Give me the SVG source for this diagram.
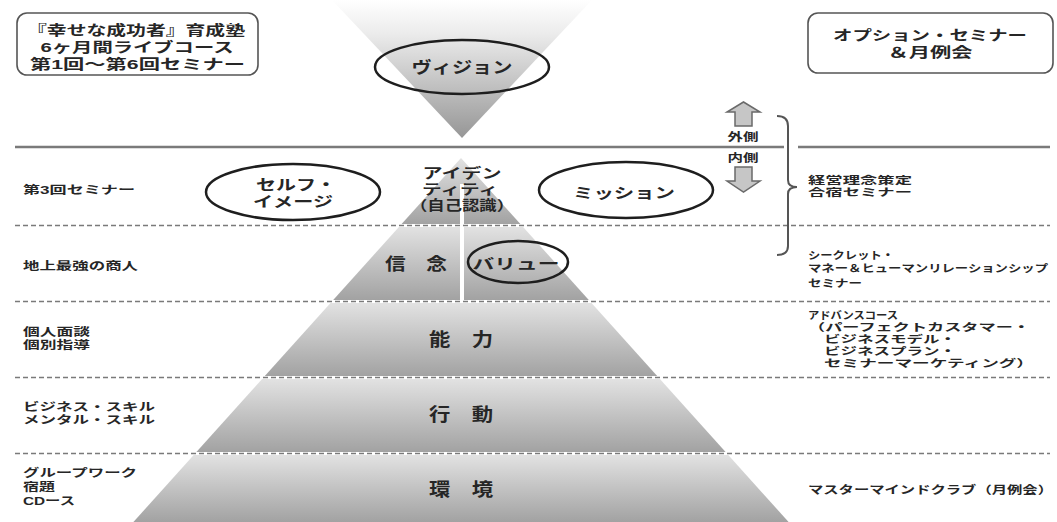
<svg xmlns="http://www.w3.org/2000/svg" width="1057" height="522" viewBox="0 0 1057 522">
<style>
text{font-family:"Liberation Sans","Noto Sans CJK JP","Noto Sans CJK SC",sans-serif;font-weight:bold;fill:#262626}
.s{font-size:11px}
.r{font-size:10.5px}
.m{font-size:13.5px}
.l{font-size:14.5px}
.c{text-anchor:middle}
.ell{fill:none;stroke:#1e1e1e;stroke-width:2.5}
.box{fill:#fff;stroke:#555;stroke-width:1.6}
.band{fill:url(#bandGrad)}
.dash{stroke:#7a7a7a;stroke-width:1.6;stroke-dasharray:5 3;fill:none}
.solid{stroke:#7a7a7a;stroke-width:2.6;fill:none}
.arrow{fill:#c6c6c6;stroke:#6a6a6a;stroke-width:1.5}
.brace{fill:none;stroke:#555;stroke-width:2}
</style>
<defs>
<linearGradient id="bandGrad" x1="0" y1="0" x2="0" y2="1">
<stop offset="0" stop-color="#e2e2e2"/>
<stop offset="1" stop-color="#a2a2a2"/>
</linearGradient>
<linearGradient id="funnelGrad" gradientUnits="userSpaceOnUse" x1="0" y1="0" x2="0" y2="138">
<stop offset="0" stop-color="#ffffff"/>
<stop offset="0.25" stop-color="#ebebeb"/>
<stop offset="1" stop-color="#969696"/>
</linearGradient>
</defs>
<rect width="1057" height="522" fill="#fff"/>

<!-- vision funnel -->
<g id="funnel">
<polygon points="332,0 592,0 462,138" fill="url(#funnelGrad)"/>
</g>

<!-- pyramid bands -->
<g id="pyramid">
<polygon class="band" points="461,158 401.6,224 520.4,224"/>
<polygon class="band" points="398.9,227 523.1,227 588.8,300 333.2,300"/>
<polygon class="band" points="330.5,303 591.5,303 657.2,376 264.8,376"/>
<polygon class="band" points="262.1,379 659.9,379 725.6,452 196.4,452"/>
<polygon class="band" points="193.7,455 728.3,455 788.6,522 133.4,522"/>
<rect x="460" y="184" width="4" height="117" fill="#fff"/>
</g>

<!-- separator lines -->
<g id="lines">
<line class="solid" x1="15" y1="147" x2="784" y2="147"/>
<line class="solid" x1="798" y1="147" x2="1050" y2="147"/>
<line class="dash" x1="15" y1="225.5" x2="1050" y2="225.5"/>
<line class="dash" x1="15" y1="301.5" x2="1050" y2="301.5"/>
<line class="dash" x1="15" y1="377.5" x2="1050" y2="377.5"/>
<line class="dash" x1="15" y1="453.5" x2="1050" y2="453.5"/>
</g>

<!-- header boxes -->
<g id="course-box">
<rect class="box" x="17" y="13" width="241" height="62" rx="10"/>
<text class="m c"><tspan x="136" y="35" textLength="218" lengthAdjust="spacingAndGlyphs">『幸せな成功者』育成塾</tspan><tspan x="137" y="52" textLength="193" lengthAdjust="spacingAndGlyphs">6ヶ月間ライブコース</tspan><tspan x="137.5" y="68.5" textLength="215" lengthAdjust="spacingAndGlyphs">第1回〜第6回セミナー</tspan></text>
</g>
<g id="option-box">
<rect class="box" x="808" y="13" width="245" height="60" rx="10"/>
<text class="m c"><tspan x="930" y="40" textLength="194" lengthAdjust="spacingAndGlyphs">オプション・セミナー</tspan><tspan x="930" y="57" textLength="85" lengthAdjust="spacingAndGlyphs">＆月例会</tspan></text>
</g>

<!-- ellipse nodes -->
<g id="vision">
<ellipse class="ell" cx="462" cy="67" rx="87" ry="27"/>
<text class="c" x="462" y="73" font-size="16" textLength="101" lengthAdjust="spacingAndGlyphs">ヴィジョン</text>
</g>
<g id="self-image">
<ellipse class="ell" cx="293" cy="192" rx="87" ry="28"/>
<text class="l c"><tspan x="296" y="190" textLength="80" lengthAdjust="spacingAndGlyphs">セルフ・</tspan><tspan x="293" y="207" textLength="80" lengthAdjust="spacingAndGlyphs">イメージ</tspan></text>
</g>
<g id="mission">
<ellipse class="ell" cx="626" cy="190" rx="87" ry="28"/>
<text class="l c" x="624" y="198" textLength="102" lengthAdjust="spacingAndGlyphs">ミッション</text>
</g>
<g id="identity">
<text class="m c"><tspan x="462" y="178" textLength="79" lengthAdjust="spacingAndGlyphs">アイデン</tspan><tspan x="460" y="194" textLength="76" lengthAdjust="spacingAndGlyphs">ティティ</tspan><tspan x="462" y="210" textLength="104" lengthAdjust="spacingAndGlyphs">（自己認識）</tspan></text>
</g>
<g id="belief">
<text class="c" x="416" y="270" font-size="17" textLength="62" lengthAdjust="spacingAndGlyphs">信　念</text>
</g>
<g id="value">
<ellipse class="ell" cx="518" cy="262" rx="50" ry="21"/>
<text class="l c" x="516" y="269" textLength="87" lengthAdjust="spacingAndGlyphs">バリュー</text>
</g>
<g id="ability">
<text class="c" x="461" y="346" font-size="18" textLength="64" lengthAdjust="spacingAndGlyphs">能　力</text>
</g>
<g id="action">
<text class="c" x="461" y="421" font-size="18" textLength="64" lengthAdjust="spacingAndGlyphs">行　動</text>
</g>
<g id="environment">
<text class="c" x="461" y="496" font-size="18" textLength="64" lengthAdjust="spacingAndGlyphs">環　境</text>
</g>

<!-- left labels -->
<g id="left-labels">
<text class="s" x="23" y="194" textLength="112" lengthAdjust="spacingAndGlyphs">第3回セミナー</text>
<text class="s" x="23" y="270" textLength="115" lengthAdjust="spacingAndGlyphs">地上最強の商人</text>
<text class="s"><tspan x="23" y="336" textLength="67" lengthAdjust="spacingAndGlyphs">個人面談</tspan><tspan x="23" y="349" textLength="67" lengthAdjust="spacingAndGlyphs">個別指導</tspan></text>
<text class="s"><tspan x="23" y="411" textLength="132" lengthAdjust="spacingAndGlyphs">ビジネス・スキル</tspan><tspan x="23" y="424" textLength="132" lengthAdjust="spacingAndGlyphs">メンタル・スキル</tspan></text>
<text class="s"><tspan x="23" y="477" textLength="114" lengthAdjust="spacingAndGlyphs">グループワーク</tspan><tspan x="23" y="491" textLength="32" lengthAdjust="spacingAndGlyphs">宿題</tspan><tspan x="23" y="505" textLength="52" lengthAdjust="spacingAndGlyphs">CDース</tspan></text>
</g>

<!-- right labels -->
<g id="right-labels">
<text class="r"><tspan x="808" y="184" textLength="104" lengthAdjust="spacingAndGlyphs">経営理念策定</tspan><tspan x="808" y="196" textLength="104" lengthAdjust="spacingAndGlyphs">合宿セミナー</tspan></text>
<text class="r"><tspan x="808" y="259" textLength="86" lengthAdjust="spacingAndGlyphs">シークレット・</tspan><tspan x="808" y="272" textLength="240" lengthAdjust="spacingAndGlyphs">マネー＆ヒューマンリレーションシップ</tspan><tspan x="808" y="287" textLength="54" lengthAdjust="spacingAndGlyphs">セミナー</tspan></text>
<text class="r"><tspan x="808" y="319" textLength="90" lengthAdjust="spacingAndGlyphs">アドバンスコース</tspan><tspan x="808" y="331" textLength="222" lengthAdjust="spacingAndGlyphs">（パーフェクトカスタマー・</tspan><tspan x="824" y="343" textLength="132" lengthAdjust="spacingAndGlyphs">ビジネスモデル・</tspan><tspan x="824" y="355" textLength="132" lengthAdjust="spacingAndGlyphs">ビジネスプラン・</tspan><tspan x="824" y="367" textLength="210" lengthAdjust="spacingAndGlyphs">セミナーマーケティング）</tspan></text>
<text class="s" x="808" y="494" textLength="245" lengthAdjust="spacingAndGlyphs">マスターマインドクラブ（月例会）</text>
</g>

<!-- inner/outer arrows and brace -->
<g id="connectors">
<polygon class="arrow" points="743.5,102 760,112 752,112 752,126 735,126 735,112 727,112"/>
<polygon class="arrow" points="735,167 752,167 752,181 760,181 743.5,192 727,181 735,181"/>
<path class="brace" d="M777,116 Q788,116 788,126 L788,180 Q788,187 797,187 Q788,187 788,194 L788,246 Q788,255 777,255"/>
</g>
<g id="side-labels">
<text class="s c" x="743" y="141" textLength="31" lengthAdjust="spacingAndGlyphs">外側</text>
<text class="s c" x="743" y="162" textLength="31" lengthAdjust="spacingAndGlyphs">内側</text>
</g>
</svg>
